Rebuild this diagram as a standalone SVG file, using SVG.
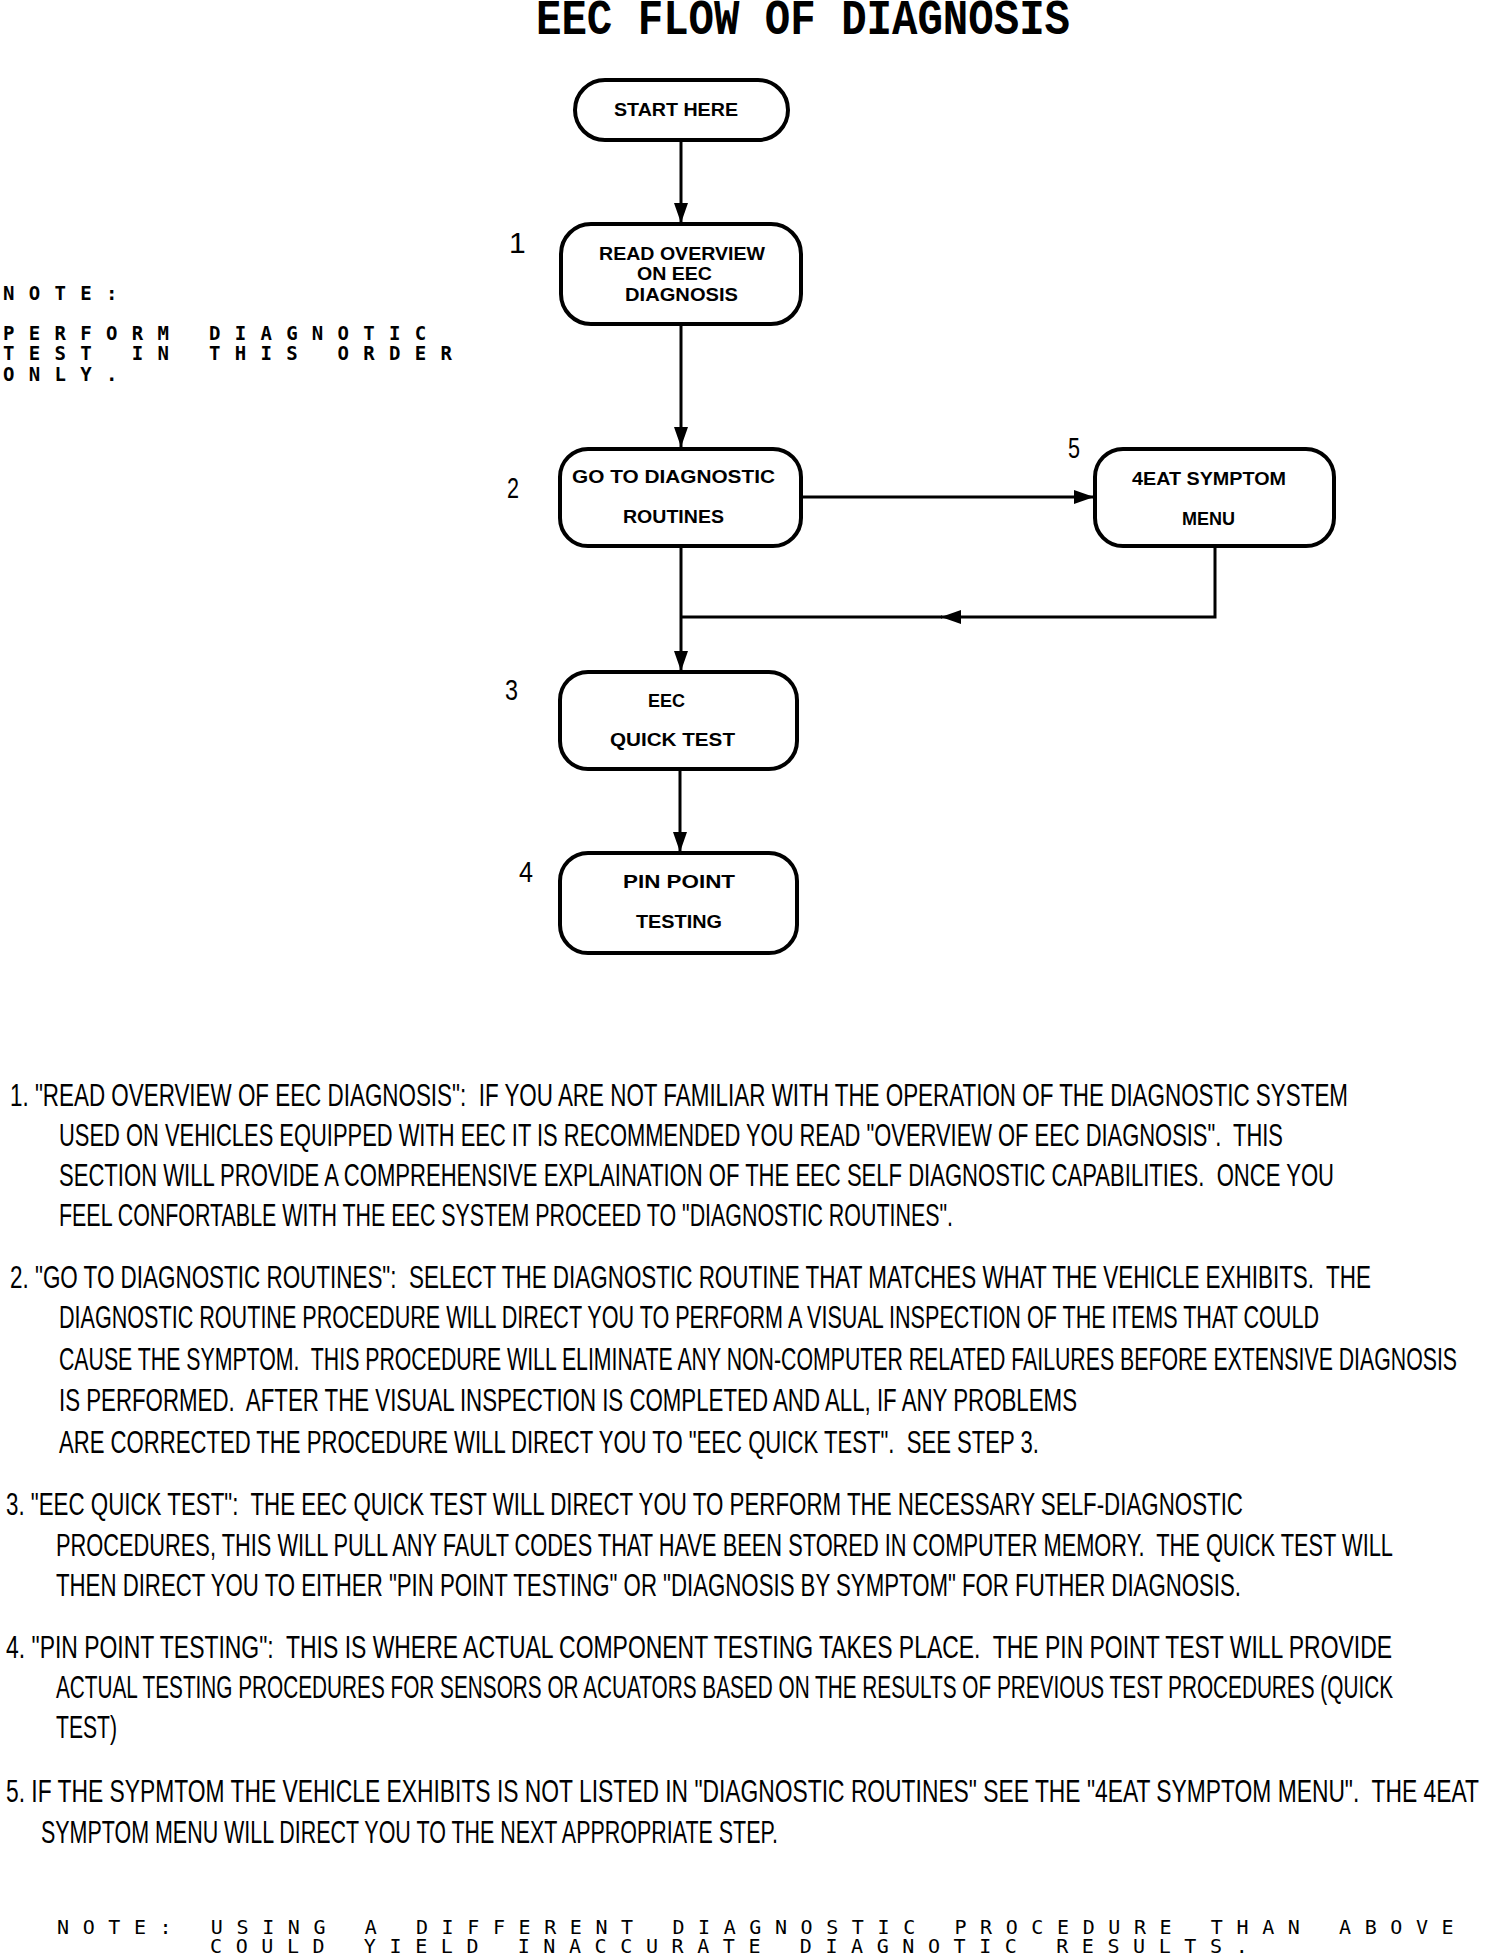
<svg xmlns="http://www.w3.org/2000/svg" width="1504" height="1956" viewBox="0 0 1504 1956">
<style>
.bg{fill:#fff}
.box{fill:#fff;stroke:#000;stroke-width:4}
.con{fill:none;stroke:#000;stroke-width:3}
.title{font-family:"Liberation Mono","Courier New",monospace;font-weight:bold;font-size:50px;fill:#000}
.n{font-family:"Liberation Sans",Arial,sans-serif;font-weight:bold;font-size:18.5px;fill:#000}
.num{font-family:"Liberation Sans",Arial,sans-serif;font-size:30px;fill:#000}
.p{font-family:"Liberation Sans",Arial,sans-serif;font-size:22px;fill:#000;white-space:pre}
.note{font-family:"DejaVu Sans Mono",monospace;font-weight:bold;font-size:19px;letter-spacing:14.3px;fill:#000;white-space:pre}
.note2{font-family:"DejaVu Sans Mono",monospace;font-size:20px;letter-spacing:13.6px;fill:#000;white-space:pre}
</style>
<defs>
<marker id="ah" markerUnits="userSpaceOnUse" viewBox="0 0 20 14" markerWidth="20" markerHeight="14" refX="20" refY="7" orient="auto">
<path d="M0,0 L20,7 L0,14 z" fill="#000"/>
</marker>
</defs>
<rect class="bg" x="0" y="0" width="1504" height="1956"/>
<text class="title" x="536" y="34" textLength="534" lengthAdjust="spacingAndGlyphs">EEC FLOW OF DIAGNOSIS</text>

<g id="connectors">
<path class="con" d="M681,140 V223" marker-end="url(#ah)"/>
<path class="con" d="M681,324 V447" marker-end="url(#ah)"/>
<path class="con" d="M681,546 V671" marker-end="url(#ah)"/>
<path class="con" d="M680,769 V852" marker-end="url(#ah)"/>
<path class="con" d="M801,497 H1094" marker-end="url(#ah)"/>
<path class="con" d="M1215,546 V617 H941" marker-end="url(#ah)"/>
<path class="con" d="M942,617 H681"/>
</g>

<g id="start">
<rect class="box" x="575" y="80" width="213" height="60" rx="30"/>
<text class="n" x="614" y="116" textLength="124" lengthAdjust="spacingAndGlyphs">START HERE</text>
</g>
<g id="step1">
<rect class="box" x="561" y="224" width="240" height="100" rx="30"/>
<text class="n" x="599" y="260" textLength="166" lengthAdjust="spacingAndGlyphs">READ OVERVIEW</text>
<text class="n" x="637" y="280" textLength="75" lengthAdjust="spacingAndGlyphs">ON EEC</text>
<text class="n" x="625" y="301" textLength="113" lengthAdjust="spacingAndGlyphs">DIAGNOSIS</text>
<text class="num" x="509" y="253">1</text>
</g>
<g id="step2">
<rect class="box" x="560" y="449" width="241" height="97" rx="28"/>
<text class="n" x="572" y="483" textLength="203" lengthAdjust="spacingAndGlyphs">GO TO DIAGNOSTIC</text>
<text class="n" x="623" y="523" textLength="101" lengthAdjust="spacingAndGlyphs">ROUTINES</text>
<text class="num" x="507" y="498" textLength="12" lengthAdjust="spacingAndGlyphs">2</text>
</g>
<g id="step5">
<rect class="box" x="1095" y="449" width="239" height="97" rx="28"/>
<text class="n" x="1132" y="485" textLength="154" lengthAdjust="spacingAndGlyphs">4EAT SYMPTOM</text>
<text class="n" x="1182" y="525" textLength="53" lengthAdjust="spacingAndGlyphs">MENU</text>
<text class="num" x="1068" y="458" textLength="12" lengthAdjust="spacingAndGlyphs">5</text>
</g>
<g id="step3">
<rect class="box" x="560" y="672" width="237" height="97" rx="28"/>
<text class="n" x="648" y="707" textLength="37" lengthAdjust="spacingAndGlyphs">EEC</text>
<text class="n" x="610" y="746" textLength="125" lengthAdjust="spacingAndGlyphs">QUICK TEST</text>
<text class="num" x="505" y="700" textLength="13" lengthAdjust="spacingAndGlyphs">3</text>
</g>
<g id="step4">
<rect class="box" x="560" y="853" width="237" height="100" rx="28"/>
<text class="n" x="623" y="888" textLength="112" lengthAdjust="spacingAndGlyphs">PIN POINT</text>
<text class="n" x="636" y="928" textLength="86" lengthAdjust="spacingAndGlyphs">TESTING</text>
<text class="num" x="519" y="882" textLength="14" lengthAdjust="spacingAndGlyphs">4</text>
</g>

<g id="side-note">
<text class="note" x="3" y="300">NOTE:</text>
<text class="note" x="3" y="340">PERFORM DIAGNOTIC</text>
<text class="note" x="3" y="360">TEST IN THIS ORDER</text>
<text class="note" x="3" y="381">ONLY.</text>
</g>

<g id="explanations" transform="scale(1,1.42)">
<text class="p" x="10" y="778.87" textLength="1338" lengthAdjust="spacingAndGlyphs">1. "READ OVERVIEW OF EEC DIAGNOSIS":  IF YOU ARE NOT FAMILIAR WITH THE OPERATION OF THE DIAGNOSTIC SYSTEM</text>
<text class="p" x="59" y="807.04" textLength="1224" lengthAdjust="spacingAndGlyphs">USED ON VEHICLES EQUIPPED WITH EEC IT IS RECOMMENDED YOU READ "OVERVIEW OF EEC DIAGNOSIS".  THIS</text>
<text class="p" x="59" y="835.21" textLength="1275" lengthAdjust="spacingAndGlyphs">SECTION WILL PROVIDE A COMPREHENSIVE EXPLAINATION OF THE EEC SELF DIAGNOSTIC CAPABILITIES.  ONCE YOU</text>
<text class="p" x="59" y="863.38" textLength="894" lengthAdjust="spacingAndGlyphs">FEEL CONFORTABLE WITH THE EEC SYSTEM PROCEED TO "DIAGNOSTIC ROUTINES".</text>
<text class="p" x="10" y="907.04" textLength="1361" lengthAdjust="spacingAndGlyphs">2. "GO TO DIAGNOSTIC ROUTINES":  SELECT THE DIAGNOSTIC ROUTINE THAT MATCHES WHAT THE VEHICLE EXHIBITS.  THE</text>
<text class="p" x="59" y="935.21" textLength="1260" lengthAdjust="spacingAndGlyphs">DIAGNOSTIC ROUTINE PROCEDURE WILL DIRECT YOU TO PERFORM A VISUAL INSPECTION OF THE ITEMS THAT COULD</text>
<text class="p" x="59" y="964.79" textLength="1398" lengthAdjust="spacingAndGlyphs">CAUSE THE SYMPTOM.  THIS PROCEDURE WILL ELIMINATE ANY NON-COMPUTER RELATED FAILURES BEFORE EXTENSIVE DIAGNOSIS</text>
<text class="p" x="59" y="993.66" textLength="1018" lengthAdjust="spacingAndGlyphs">IS PERFORMED.  AFTER THE VISUAL INSPECTION IS COMPLETED AND ALL, IF ANY PROBLEMS</text>
<text class="p" x="59" y="1023.24" textLength="980" lengthAdjust="spacingAndGlyphs">ARE CORRECTED THE PROCEDURE WILL DIRECT YOU TO "EEC QUICK TEST".  SEE STEP 3.</text>
<text class="p" x="6" y="1066.90" textLength="1237" lengthAdjust="spacingAndGlyphs">3. "EEC QUICK TEST":  THE EEC QUICK TEST WILL DIRECT YOU TO PERFORM THE NECESSARY SELF-DIAGNOSTIC</text>
<text class="p" x="56" y="1095.77" textLength="1337" lengthAdjust="spacingAndGlyphs">PROCEDURES, THIS WILL PULL ANY FAULT CODES THAT HAVE BEEN STORED IN COMPUTER MEMORY.  THE QUICK TEST WILL</text>
<text class="p" x="56" y="1123.94" textLength="1185" lengthAdjust="spacingAndGlyphs">THEN DIRECT YOU TO EITHER "PIN POINT TESTING" OR "DIAGNOSIS BY SYMPTOM" FOR FUTHER DIAGNOSIS.</text>
<text class="p" x="6" y="1167.61" textLength="1386" lengthAdjust="spacingAndGlyphs">4. "PIN POINT TESTING":  THIS IS WHERE ACTUAL COMPONENT TESTING TAKES PLACE.  THE PIN POINT TEST WILL PROVIDE</text>
<text class="p" x="56" y="1195.77" textLength="1337" lengthAdjust="spacingAndGlyphs">ACTUAL TESTING PROCEDURES FOR SENSORS OR ACUATORS BASED ON THE RESULTS OF PREVIOUS TEST PROCEDURES (QUICK</text>
<text class="p" x="56" y="1223.94" textLength="61" lengthAdjust="spacingAndGlyphs">TEST)</text>
<text class="p" x="6" y="1269.01" textLength="1473" lengthAdjust="spacingAndGlyphs">5. IF THE SYPMTOM THE VEHICLE EXHIBITS IS NOT LISTED IN "DIAGNOSTIC ROUTINES" SEE THE "4EAT SYMPTOM MENU".  THE 4EAT</text>
<text class="p" x="41" y="1297.89" textLength="737" lengthAdjust="spacingAndGlyphs">SYMPTOM MENU WILL DIRECT YOU TO THE NEXT APPROPRIATE STEP.</text>
</g>

<g id="bottom-note">
<text class="note2" x="57" y="1934">NOTE: USING A DIFFERENT DIAGNOSTIC PROCEDURE THAN ABOVE</text>
<text class="note2" x="210" y="1953">COULD YIELD INACCURATE DIAGNOTIC RESULTS.</text>
</g>
</svg>
